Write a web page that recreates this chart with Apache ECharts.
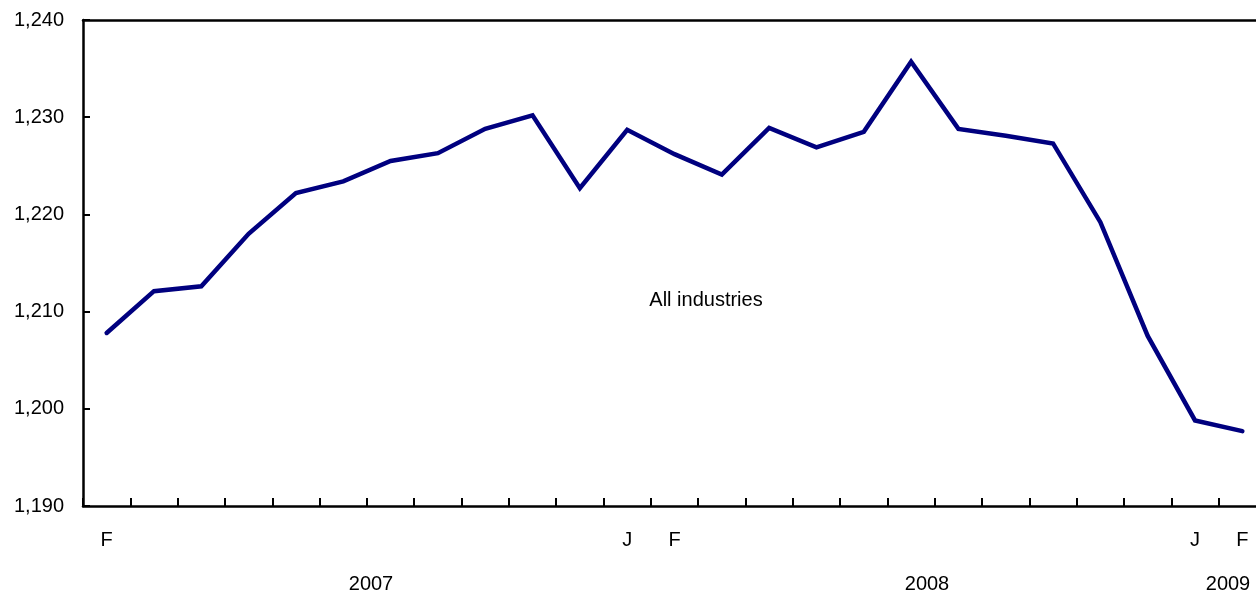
<!DOCTYPE html>
<html>
<head>
<meta charset="utf-8">
<script src="https://cdn.jsdelivr.net/npm/echarts@6/dist/echarts.min.js"></script>
<style>
html,body{margin:0;padding:0;background:#fff;overflow:hidden;}
#chart{width:1256px;height:592px;}
</style>
</head>
<body>
<div id="chart"></div>
<script>
var months = ['Feb 2007','Mar 2007','Apr 2007','May 2007','Jun 2007','Jul 2007','Aug 2007','Sep 2007','Oct 2007','Nov 2007','Dec 2007',
  'Jan 2008','Feb 2008','Mar 2008','Apr 2008','May 2008','Jun 2008','Jul 2008','Aug 2008','Sep 2008','Oct 2008','Nov 2008','Dec 2008',
  'Jan 2009','Feb 2009'];
var monthLabels = ['F','','','','','','','','','','','J','F','','','','','','','','','','','J','F'];
var allIndustries = [1207.8,1212.1,1212.6,1218.0,1222.2,1223.4,1225.5,1226.3,1228.8,1230.2,1222.7,
  1228.7,1226.2,1224.1,1228.9,1226.9,1228.5,1235.7,1228.8,1228.1,1227.3,1219.2,1207.5,
  1198.8,1197.7];
var yearLabels = ['2007','2008','2009'];
var seriesName = 'All industries';

var font = '"Liberation Sans", Arial, Helvetica, sans-serif';
var chart = echarts.init(document.getElementById('chart'));
chart.setOption({
  animation: false,
  backgroundColor: '#fff',
  grid: {left: 83, top: 20, width: 1183, height: 486, outerBoundsMode: 'none', containLabel: false},
  xAxis: [{
    type: 'category',
    data: months,
    boundaryGap: true,
    axisLine: {show: true, lineStyle: {color: '#000', width: 2.5}},
    axisTick: {show: true, inside: true, length: 8, interval: 0, lineStyle: {color: '#000', width: 2}},
    axisLabel: {
      interval: 0, margin: 24, color: '#000', fontSize: 20, fontFamily: font,
      formatter: function (v, i) { return monthLabels[i]; }
    },
    splitLine: {show: false}
  }, {
    type: 'category',
    position: 'top',
    data: months,
    axisLine: {show: true, lineStyle: {color: '#000', width: 2.5}},
    axisTick: {show: false},
    axisLabel: {show: false}
  }],
  yAxis: {
    type: 'value',
    min: 1190, max: 1240, interval: 10,
    axisLine: {show: true, lineStyle: {color: '#000', width: 2.5}},
    axisTick: {show: true, inside: true, length: 7, lineStyle: {color: '#000', width: 2}},
    axisLabel: {
      color: '#000', fontSize: 20, fontFamily: font, margin: 19,
      formatter: function (v) { return v.toLocaleString('en-US'); }
    },
    splitLine: {show: false}
  },
  series: [{
    name: seriesName,
    type: 'line',
    data: allIndustries,
    symbol: 'none',
    lineStyle: {color: '#00007f', width: 4.5, cap: 'round', join: 'miter'}
  }],
  graphic: [
    {type: 'text', x: 706, y: 300, style: {text: seriesName, fill: '#000', font: '20px ' + font, align: 'center', verticalAlign: 'middle'}},
    {type: 'text', x: 371, y: 584, style: {text: yearLabels[0], fill: '#000', font: '20px ' + font, align: 'center', verticalAlign: 'middle'}},
    {type: 'text', x: 927, y: 584, style: {text: yearLabels[1], fill: '#000', font: '20px ' + font, align: 'center', verticalAlign: 'middle'}},
    {type: 'text', x: 1228, y: 584, style: {text: yearLabels[2], fill: '#000', font: '20px ' + font, align: 'center', verticalAlign: 'middle'}}
  ]
});
</script>
</body>
</html>
